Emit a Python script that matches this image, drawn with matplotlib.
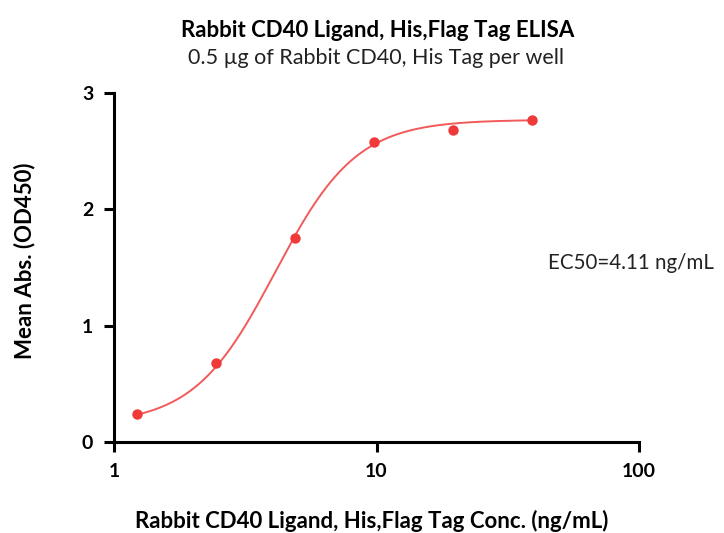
import numpy as np
import matplotlib
matplotlib.use("Agg")
import matplotlib.pyplot as plt

# -----------------------------
# Data
# -----------------------------
conc = [1.22, 2.44, 4.88, 9.77, 19.5, 39.0]
absorb = [0.24, 0.68, 1.75, 2.58, 2.68, 2.77]

# 4PL fit parameters (EC50 from the chart)
bottom = 0.15
top = 2.77
ec50 = 4.11
hill = 2.8

plt.rcParams['font.family'] = ['Lato', 'DejaVu Sans']

fig = plt.figure(figsize=(7.24, 5.33), dpi=100)
ax = fig.add_axes([0.1575, 0.1707, 0.7251, 0.6548])

# fitted curve
xs = np.logspace(np.log10(conc[0]), np.log10(conc[-1]), 300)
ys = bottom + (top - bottom) / (1 + (ec50 / xs) ** hill)
ax.plot(xs, ys, color='#F25A5A', lw=1.4, zorder=2)
ax.plot(conc, absorb, 'o', color='#F03A3A', ms=7.5, mec='none', zorder=3)

ax.set_xscale('log')
ax.set_xlim(1, 100)
ax.set_ylim(0, 3)
ax.set_xticks([1, 10, 100])
ax.set_xticklabels(['1', '10', '100'])
ax.set_yticks([0, 1, 2, 3])
ax.minorticks_off()

for s in ['top', 'right']:
    ax.spines[s].set_visible(False)
for s in ['left', 'bottom']:
    ax.spines[s].set_linewidth(2.2)
ax.tick_params(width=2.2, length=7, labelsize=14, pad=8)
for lab in ax.get_xticklabels() + ax.get_yticklabels():
    lab.set_fontweight('bold')

ax.set_xlabel('Rabbit CD40 Ligand, His,Flag Tag Conc. (ng/mL)', fontsize=16,
              fontweight='bold')
ax.xaxis.set_label_coords(0.49, -0.195)
ax.set_ylabel('Mean Abs. (OD450)', fontsize=16, fontweight='bold')
ax.yaxis.set_label_coords(-0.150, 0.52)

fig.text(0.521, 0.943, 'Rabbit CD40 Ligand, His,Flag Tag ELISA', ha='center',
         va='center', fontsize=16, fontweight='bold')
fig.text(0.52, 0.891, '0.5 µg of Rabbit CD40, His Tag per well', ha='center',
         va='center', fontsize=15.5, color='#222222')
fig.text(0.757, 0.506, 'EC50=4.11 ng/mL', ha='left', va='center', fontsize=14.8,
         color='#222222')

fig.savefig('out.png', dpi=100)
